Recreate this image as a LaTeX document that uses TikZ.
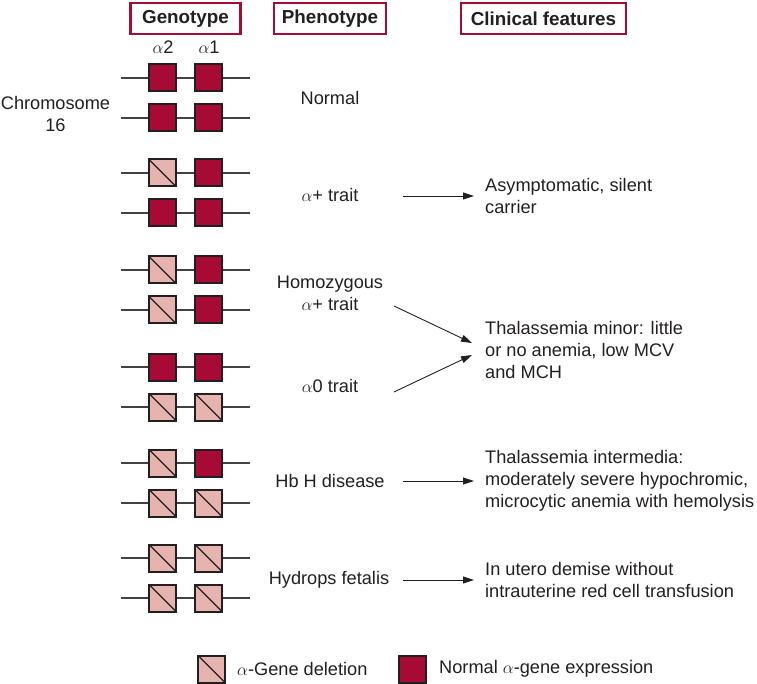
\documentclass[tikz,border=0pt]{standalone}
\usepackage{fontspec}
\setmainfont{Liberation Sans}
\usetikzlibrary{arrows.meta}
\definecolor{genered}{HTML}{A80A36}
\definecolor{genepink}{HTML}{E7B3AE}
\definecolor{ink}{HTML}{231F20}
\begin{document}
\begin{tikzpicture}[x=1pt,y=-1pt,
  txt/.style={font=\fontsize{18.2}{22}\selectfont, text=ink, inner sep=0pt},
  hdr/.style={draw=genered, line width=2.5pt, minimum height=31pt, inner sep=0pt,
    font=\fontsize{18.8}{21}\selectfont\bfseries, text=ink},
  chrline/.style={draw=ink!85, line width=1.5pt},
  normgene/.style={draw=ink, line width=2pt, fill=genered, minimum size=27pt, inner sep=0pt},
  delgene/.style={draw=ink, line width=2pt, fill=genepink, minimum size=27pt, inner sep=0pt,
    path picture={\draw[ink, line width=1.4pt] (path picture bounding box.north west) -- (path picture bounding box.south east);}},
  arr/.style={draw=ink, line width=0.9pt, -{Triangle[length=11pt,width=7pt]}}
]
\useasboundingbox (0,0) rectangle (757,684);

% headers
\node[hdr, minimum width=110pt] (hG) at (185.5,18.5) {Genotype};
\node[hdr, minimum width=112pt] (hP) at (330,18.5) {Phenotype};
\node[hdr, minimum width=165pt] (hC) at (543.5,18.5) {Clinical features};

\node[txt] (a2) at (163,47) {$\alpha$2};
\node[txt] (a1) at (209,47) {$\alpha$1};

\node[txt, align=center] (chr) at (55.5,114) {Chromosome\\16};

% chromosomes: name / y / gene1 style / gene2 style
\foreach \n/\y/\ga/\gb in {r1/78/normgene/normgene, r2/118/normgene/normgene,
  r3/173/delgene/normgene, r4/213/normgene/normgene,
  r5/270/delgene/normgene, r6/310/delgene/normgene,
  r7/367/normgene/normgene, r8/407/delgene/delgene,
  r9/463/delgene/normgene, r10/503/delgene/delgene,
  r11/558/delgene/delgene, r12/598/delgene/delgene}{
  \coordinate (\n-l) at (121,\y);
  \coordinate (\n-r) at (250,\y);
  \draw[chrline] (\n-l) -- (\n-r);
  \node[\ga] (\n-a) at (162.5,\y) {};
  \node[\gb] (\n-b) at (208.5,\y) {};
}

% phenotypes
\node[txt] (pNorm) at (330,98) {Normal};
\node[txt] (pPlus) at (330,195) {$\alpha$+ trait};
\node[txt, align=center] (pHomo) at (330,293) {Homozygous\\$\alpha$+ trait};
\node[txt] (pZero) at (330,386) {$\alpha$0 trait};
\node[txt] (pHbH) at (330,481) {Hb H disease};
\node[txt] (pHyd) at (329,580) {Hydrops fetalis};

% clinical features
\node[txt, align=left, anchor=west] (cAsym) at (485,196) {Asymptomatic, silent\\carrier};
\node[txt, align=left, anchor=west] (cMin) at (485,350) {Thalassemia minor: little\\or no anemia, low MCV\\and MCH};
\node[txt, align=left, anchor=west] (cInt) at (485,481) {Thalassemia intermedia:\\moderately severe hypochromic,\\microcytic anemia with hemolysis};
\node[txt, align=left, anchor=west] (cUt) at (485,580) {In utero demise without\\intrauterine red cell transfusion};

% arrows
\coordinate (s1) at (403,196); \coordinate (e1) at (474,196);
\coordinate (s2) at (394,306); \coordinate (e2) at (472,343);
\coordinate (s3) at (394,392); \coordinate (e3) at (472,355);
\coordinate (s4) at (403,481); \coordinate (e4) at (474,481);
\coordinate (s5) at (403,580); \coordinate (e5) at (474,580);
\draw[arr] (s1) -- (e1);
\draw[arr] (s2) -- (e2);
\draw[arr] (s3) -- (e3);
\draw[arr] (s4) -- (e4);
\draw[arr] (s5) -- (e5);

% legend
\node[delgene] (lDel) at (211.5,669) {};
\node[txt, anchor=west] (lDelT) at (237,669) {$\alpha$-Gene deletion};
\node[normgene] (lNorm) at (412,669) {};
\node[txt, anchor=west] (lNormT) at (439,669) {Normal $\alpha$-gene expression};
\end{tikzpicture}
\end{document}
